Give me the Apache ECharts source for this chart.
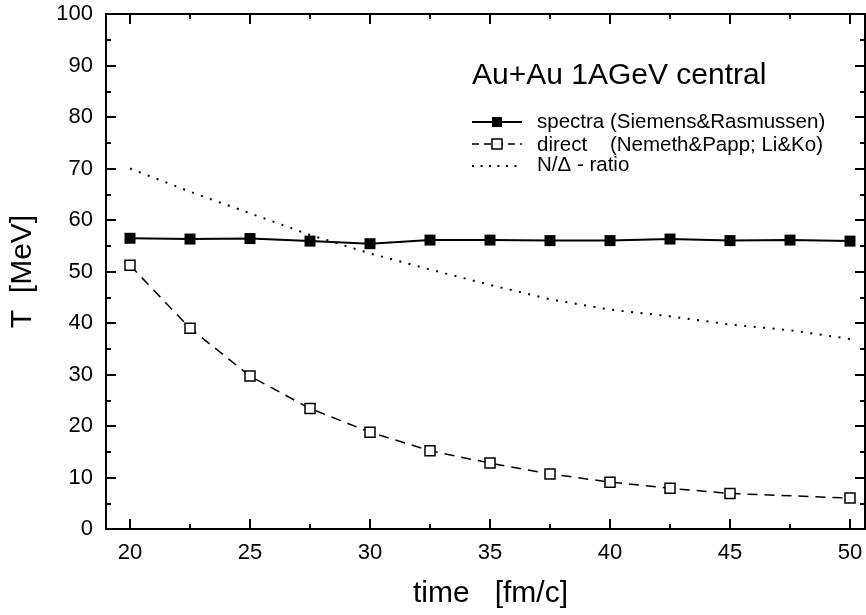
<!DOCTYPE html>
<html>
<head>
<meta charset="utf-8">
<script src="https://cdn.jsdelivr.net/npm/echarts@6/dist/echarts.min.js"></script>
<style>
html, body { margin: 0; padding: 0; background: #fff; }
#chart { width: 866px; height: 615px; }
</style>
</head>
<body>
<div id="chart"></div>
<script>
// time [fm/c]
var timeSpectra = [20, 22.5, 25, 27.5, 30, 32.5, 35, 37.5, 40, 42.5, 45, 47.5, 50];
var tSpectra = [56.45, 56.3, 56.4, 55.9, 55.4, 56.1, 56.1, 56.0, 56.0, 56.3, 56.0, 56.1, 55.9];

var timeDirect = [20, 22.5, 25, 27.5, 30, 32.5, 35, 37.5, 40, 42.5, 45, 50];
var tDirect = [51.2, 39.0, 29.7, 23.4, 18.8, 15.2, 12.8, 10.7, 9.1, 7.9, 6.9, 6.0];

var timeRatio = [20, 22.5, 25, 27.5, 30, 32.5, 35, 37.5, 40, 42.5, 45, 47.5, 50];
var tRatio = [70, 65.5, 61.3, 57.1, 53.5, 50.4, 47.4, 44.6, 42.6, 41.3, 39.7, 38.6, 36.9];

var xMajor = [20, 25, 30, 35, 40, 45, 50];
var xMinor = [22.5, 27.5, 32.5, 37.5, 42.5, 47.5];

var FONT = 'Liberation Sans, Arial, Helvetica, sans-serif';

function pairs(xs, ys) {
    var out = [];
    for (var i = 0; i < xs.length; i++) { out.push([xs[i], ys[i]]); }
    return out;
}

function xAx(pos, values, len, labels) {
    return {
        type: 'value', position: pos, min: 19, max: 50.625,
        axisLine: { show: true, onZero: false, lineStyle: { color: '#000', width: 2 } },
        axisTick: { show: true, inside: true, length: len, customValues: values, lineStyle: { color: '#000', width: 2 } },
        axisLabel: labels ? { show: true, customValues: values, margin: 13, fontSize: 22, color: '#000', fontFamily: FONT } : { show: false },
        splitLine: { show: false }
    };
}

var chart = echarts.init(document.getElementById('chart'));

var option = {
    backgroundColor: '#fff',
    animation: false,
    grid: { left: 106, right: 1, top: 14, bottom: 86, containLabel: false },
    xAxis: [
        Object.assign(xAx('bottom', xMajor, 10, true), {
            name: 'time   [fm/c]', nameLocation: 'middle', nameGap: 50,
            nameTextStyle: { fontSize: 30, color: '#000', fontFamily: FONT, padding: [0, 0, 0, 10] }
        }),
        xAx('bottom', xMinor, 5, false),
        xAx('top', xMajor, 10, false),
        xAx('top', xMinor, 5, false)
    ],
    yAxis: [
        {
            type: 'value', position: 'left', min: 0, max: 100, interval: 10,
            name: 'T  [MeV]', nameLocation: 'middle', nameGap: 68,
            nameTextStyle: { fontSize: 30, color: '#000', fontFamily: FONT },
            axisLine: { show: true, onZero: false, lineStyle: { color: '#000', width: 2 } },
            axisTick: { show: true, inside: true, length: 10, lineStyle: { color: '#000', width: 2 } },
            minorTick: { show: true, splitNumber: 2, length: 5, lineStyle: { color: '#000', width: 2 } },
            axisLabel: { margin: 13, fontSize: 22, color: '#000', fontFamily: FONT },
            splitLine: { show: false }
        },
        {
            type: 'value', position: 'right', min: 0, max: 100, interval: 10,
            axisLine: { show: true, onZero: false, lineStyle: { color: '#000', width: 2 } },
            axisTick: { show: true, inside: true, length: 10, lineStyle: { color: '#000', width: 2 } },
            minorTick: { show: true, splitNumber: 2, length: 5, lineStyle: { color: '#000', width: 2 } },
            axisLabel: { show: false },
            splitLine: { show: false }
        }
    ],
    series: [
        {
            name: 'N/Δ - ratio', type: 'line', data: pairs(timeRatio, tRatio),
            symbol: 'none', showSymbol: false,
            lineStyle: { color: '#000', width: 2, type: [2, 7.5] }
        },
        {
            name: 'direct', type: 'line', data: pairs(timeDirect, tDirect),
            symbol: 'rect', symbolSize: 10,
            itemStyle: { color: '#fff', borderColor: '#000', borderWidth: 1.5 },
            lineStyle: { color: '#000', width: 1.5, type: [10, 7] }
        },
        {
            name: 'spectra', type: 'line', data: pairs(timeSpectra, tSpectra),
            symbol: 'rect', symbolSize: 11,
            itemStyle: { color: '#000', borderColor: '#000', borderWidth: 0 },
            lineStyle: { color: '#000', width: 2 }
        }
    ],
    graphic: [
        { type: 'text', left: 472, top: 61, style: { text: 'Au+Au 1AGeV central', font: '30px ' + FONT, fill: '#000' } },
        // legend row 1
        { type: 'line', shape: { x1: 472, y1: 122, x2: 522, y2: 122 }, style: { stroke: '#000', lineWidth: 2 } },
        { type: 'rect', shape: { x: 492, y: 117, width: 10, height: 10 }, style: { fill: '#000' } },
        { type: 'text', left: 537, top: 112, style: { text: 'spectra (Siemens&Rasmussen)', font: '20.5px ' + FONT, fill: '#000' } },
        // legend row 2
        { type: 'line', shape: { x1: 472, y1: 144, x2: 522, y2: 144 }, style: { stroke: '#000', lineWidth: 1.5, lineDash: [7, 5] } },
        { type: 'rect', shape: { x: 492, y: 139, width: 10, height: 10 }, style: { fill: '#fff', stroke: '#000', lineWidth: 1.5 } },
        { type: 'text', left: 537, top: 135, style: { text: 'direct    (Nemeth&Papp; Li&Ko)', font: '20.5px ' + FONT, fill: '#000' } },
        // legend row 3
        { type: 'line', shape: { x1: 472, y1: 166, x2: 522, y2: 166 }, style: { stroke: '#000', lineWidth: 2, lineDash: [2, 6.5] } },
        { type: 'text', left: 537, top: 155, style: { text: 'N/Δ - ratio', font: '20.5px ' + FONT, fill: '#000' } }
    ]
};

chart.setOption(option);
</script>
</body>
</html>
